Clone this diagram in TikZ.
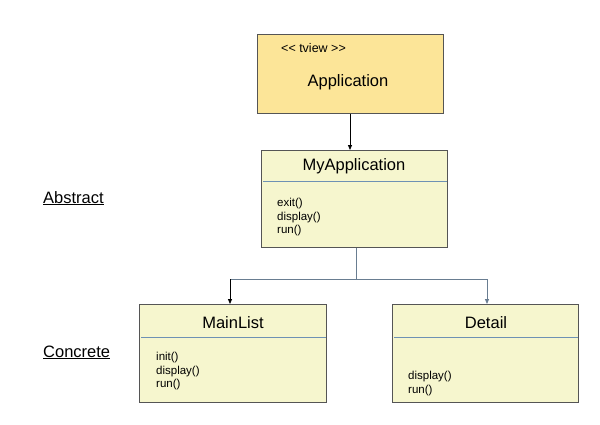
\documentclass[tikz,border=0pt]{standalone}
\usepackage{fontspec}
\setmainfont{Liberation Sans}
\usetikzlibrary{arrows.meta}
\definecolor{appfill}{RGB}{252,229,152}
\definecolor{clsfill}{RGB}{246,246,206}
\definecolor{boxline}{RGB}{85,85,85}
\definecolor{divline}{RGB}{110,145,180}
\definecolor{treeline}{RGB}{105,125,145}
\tikzset{
  classbox/.style={draw=boxline, line width=0.8pt, fill=clsfill, rectangle, inner sep=0pt, anchor=north west},
  appbox/.style={classbox, fill=appfill},
  title/.style={font=\fontsize{16.5}{18}\selectfont, inner sep=0pt},
  methods/.style={font=\fontsize{11.5}{13.6}\selectfont, align=left, inner sep=0pt, anchor=north west},
  divider/.style={draw=divline, line width=0.8pt},
  tree/.style={draw=treeline, line width=0.8pt},
  tip/.style={-{Triangle[length=5pt,width=4pt]}},
  side/.style={font=\fontsize{16.5}{18}\selectfont, inner sep=0pt, anchor=base west}
}
\begin{document}
\begin{tikzpicture}[x=1pt,y=-1pt]
\useasboundingbox[fill=white] (0,0) rectangle (600,424);
% boxes
\node[appbox, minimum width=186pt, minimum height=79pt] (app) at (257,34) {};
\node[classbox, minimum width=186pt, minimum height=97pt] (myapp) at (261,150) {};
\node[classbox, minimum width=187pt, minimum height=98pt] (mainlist) at (139,304) {};
\node[classbox, minimum width=186pt, minimum height=98pt] (detail) at (392,304) {};
% Application texts
\node[inner sep=0pt, anchor=west, font=\fontsize{12.5}{14}\selectfont] (stereo) at (281,48) {<{}< tview >{}>};
\node[title] (apptitle) at (348,82) {Application};
% MyApplication
\node[title] (mytitle) at (354,166) {MyApplication};
\coordinate (myl) at (263,181);
\coordinate (myr) at (447,181);
\draw[divider] (myl) -- (myr);
\node[methods] (mymeth) at (277,198) {exit()\\display()\\run()};
% MainList
\node[title] (mltitle) at (233,323) {MainList};
\coordinate (mll) at (141,337);
\coordinate (mlr) at (326,337);
\draw[divider] (mll) -- (mlr);
\node[methods] (mlmeth) at (156,352) {init()\\display()\\run()};
% Detail
\node[title] (dttitle) at (486,323) {Detail};
\coordinate (dtl) at (394,337);
\coordinate (dtr) at (578,337);
\draw[divider] (dtl) -- (dtr);
\node[methods] (dtmeth) at (408,371) {display()\\run()};
% side labels
\node[side] (abs) at (43,203) {\underline{Abstract}};
\node[side] (con) at (43,357) {\underline{Concrete}};
% connectors
\draw[tip, line width=0.8pt] (app.south -| 350,0) -- (myapp.north -| 350,0);
\coordinate (junc) at (356,279);
\coordinate (jl) at (230,279);
\coordinate (jr) at (487,279);
\draw[tree] (myapp.south -| junc) -- (junc);
\draw[tree] (jl) -- (jr);
\draw[tip, line width=0.8pt] (jl) -- (mainlist.north -| jl);
\draw[tip, line width=0.8pt, draw=treeline] (jr) -- (detail.north -| jr);
\end{tikzpicture}
\end{document}
